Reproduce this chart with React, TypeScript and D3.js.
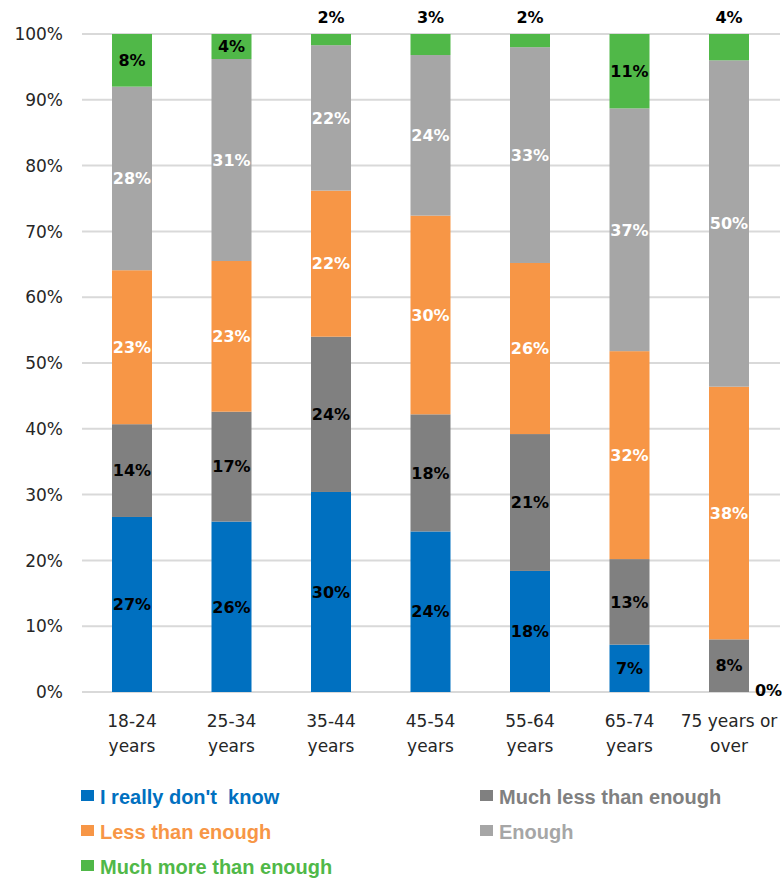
import React from "react";
import * as d3 from "d3";

const categories = ["18-24|years", "25-34|years", "35-44|years", "45-54|years", "55-64|years", "65-74|years", "75 years or|over"];
const seriesNames = ["I really don't  know", "Much less than enough", "Less than enough", "Enough", "Much more than enough"];
const dontKnow = [26.6, 25.9, 30.4, 24.4, 18.4, 7.2, 0];
const muchLess = [14.1, 16.7, 23.6, 17.8, 20.8, 13.0, 8.0];
const lessThan = [23.4, 22.9, 22.2, 30.2, 26.0, 31.6, 38.4];
const enough = [27.9, 30.7, 22.1, 24.4, 32.8, 36.9, 49.6];
const muchMore = [8.0, 3.8, 1.7, 3.2, 2.0, 11.3, 4.0];
const yTicks = [0, 10, 20, 30, 40, 50, 60, 70, 80, 90, 100];
// green labels drawn above the bar for these categories
const greenLabelAbove = [false, false, true, true, true, false, true];

const colors = ["#0070c0", "#808080", "#f79646", "#a6a6a6", "#50b848"];
const labelColors = ["#000", "#000", "#fff", "#fff", "#000"];
const legendTextColors = ["#0070c0", "#808080", "#f79646", "#a6a6a6", "#50b848"];

export default function App() {
  const W = 782, H = 880;
  const keys = ["k0", "k1", "k2", "k3", "k4"];
  const table = categories.map((c, i) => ({
    cat: c,
    k0: dontKnow[i],
    k1: muchLess[i],
    k2: lessThan[i],
    k3: enough[i],
    k4: muchMore[i],
  }));
  const stacked = d3.stack<any>().keys(keys)(table);

  const x = d3.scaleBand<string>().domain(categories).range([82.25, 778.75]).paddingInner(0.598).paddingOuter(0.299);
  const y = d3.scaleLinear().domain([0, 100]).range([692, 34]);
  const axisFont = "DejaVu Sans, sans-serif";
  const legendFont = "'Liberation Sans', Arial, sans-serif";

  const legendItems = [
    { idx: 0, x: 81, y: 804 },
    { idx: 1, x: 480, y: 804 },
    { idx: 2, x: 81, y: 839 },
    { idx: 3, x: 480, y: 839 },
    { idx: 4, x: 81, y: 874 },
  ];

  return (
    <svg width={W} height={H} style={{ position: "absolute", left: 0, top: 0, background: "#fff" }}>
      {yTicks.map((t) => (
        <g key={t}>
          <line x1={82} x2={780} y1={y(t)} y2={y(t)} stroke="#d9d9d9" strokeWidth={2} />
          <text x={63} y={y(t)} dy="0.36em" textAnchor="end" fontFamily={axisFont} fontSize={17} fill="#262626">
            {t}%
          </text>
        </g>
      ))}
      {stacked.map((s, si) =>
        s.map((d, ci) => {
          const cat = categories[ci];
          const x0 = x(cat)!;
          const bw = x.bandwidth();
          const v = d[1] - d[0];
          const y0 = y(d[0]);
          const y1 = y(d[1]);
          const label = `${Math.round(v)}%`;
          let lx = x0 + bw / 2;
          let ly = (y0 + y1) / 2;
          let anchor = "middle";
          if (si === 4 && greenLabelAbove[ci]) {
            ly = y(100) - 17;
          }
          if (v === 0) {
            lx = x0 + bw + 6;
            ly = y(0) - 2;
            anchor = "start";
          }
          return (
            <g key={`${si}-${ci}`}>
              {v > 0 && <rect x={x0} y={y1} width={bw} height={y0 - y1} fill={colors[si]} />}
              <text
                x={lx}
                y={ly}
                dy="0.36em"
                textAnchor={anchor}
                fontFamily={axisFont}
                fontWeight="bold"
                fontSize={16}
                fill={v === 0 || (si === 4 && greenLabelAbove[ci]) ? "#000" : labelColors[si]}
              >
                {label}
              </text>
            </g>
          );
        })
      )}
      {categories.map((c) => {
        const lines = c.split("|");
        const cx = x(c)! + x.bandwidth() / 2;
        return (
          <text key={c} x={cx} y={727} textAnchor="middle" fontFamily={axisFont} fontSize={17} fill="#262626">
            {lines.map((l, i) => (
              <tspan key={i} x={cx} dy={i === 0 ? 0 : 25}>
                {l}
              </tspan>
            ))}
          </text>
        );
      })}
      {legendItems.map((it) => (
        <g key={it.idx}>
          <rect x={it.x} y={it.y - 14} width={13} height={11} fill={colors[it.idx]} />
          <text
            x={it.x + 19}
            y={it.y}
            fontFamily={legendFont}
            fontWeight="bold"
            fontSize={20}
            fill={legendTextColors[it.idx]}
            style={{ whiteSpace: "pre" }}
          >
            {seriesNames[it.idx]}
          </text>
        </g>
      ))}
    </svg>
  );
}
